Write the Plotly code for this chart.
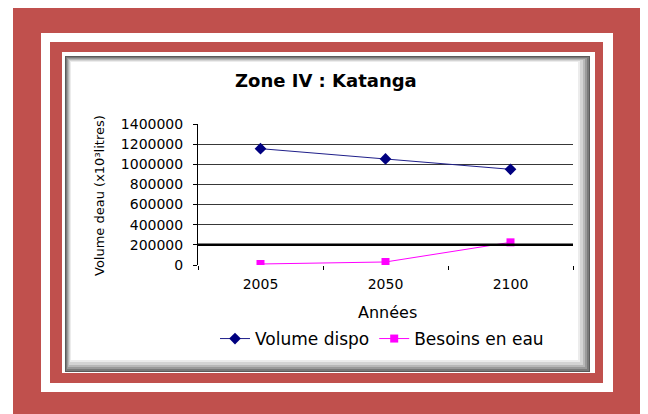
import plotly.graph_objects as go

# ---- data ----
years = ["2005", "2050", "2100"]
volume_dispo = [1155000, 1053000, 950000]
besoins_eau = [10000, 30000, 225000]
threshold = 200000
y_ticks = [0, 200000, 400000, 600000, 800000, 1000000, 1200000, 1400000]

# page body has an 8px margin: the figure covers reference pixels 8..648 / 8..414
OFF = 8
W, H = 648 - OFF, 414 - OFF
PL, PR, PT, PB = 198, 573, 124, 265   # plot area in reference pixels
L, R, T, B = PL - OFF, 648 - PR, PT - OFF, 414 - PB
PW, PH = PR - PL, PB - PT

def px(x):
    return (x - PL) / PW

def py(y):
    return (PB - y) / PH

RED = "#C0504D"
FONT = "DejaVu Sans"

fig = go.Figure()
fig.add_trace(go.Scatter(
    x=years, y=volume_dispo, name="Volume dispo", mode="lines+markers",
    line=dict(color="#1F1F8A", width=1),
    marker=dict(symbol="diamond", size=9, color="#000080"),
))
fig.add_trace(go.Scatter(
    x=years, y=besoins_eau, name="Besoins en eau", mode="lines+markers",
    line=dict(color="#FF00FF", width=1),
    marker=dict(symbol="square", size=8, color="#FF00FF"),
))

shapes = []
def rect(x0, y0, x1, y1, color):
    shapes.append(dict(type="rect", xref="paper", yref="paper",
                       x0=px(x0), x1=px(x1), y0=py(y1), y1=py(y0),
                       fillcolor=color, line=dict(width=0), layer="below"))

rect(13, 7, 642, 420, RED)
rect(41, 33, 613, 392, "white")
rect(50, 42, 603, 383, RED)
rect(62, 52, 595, 373, "white")
# shadowed chart box
rect(65, 56, 590, 372, "#5a5a5a")
rect(66, 57, 589, 371, "#7a7a7a")
rect(67, 58, 587, 369, "#9a9a9a")
rect(68, 59, 585, 367, "#b8b8b8")
rect(69, 60, 583, 365, "#d4d4d4")
rect(70, 61, 580, 362, "#ececec")
rect(71, 62, 578, 360, "white")

# bold threshold line
shapes.append(dict(type="line", xref="paper", yref="y", x0=0, x1=1,
                   y0=threshold, y1=threshold, line=dict(color="black", width=2.5),
                   layer="above"))

fig.update_layout(
    width=W, height=H,
    margin=dict(l=L, r=R, t=T, b=B, pad=0),
    paper_bgcolor="white",
    plot_bgcolor="rgba(0,0,0,0)",
    font=dict(family=FONT, size=14, color="black"),
    shapes=shapes,
    showlegend=True,
    legend=dict(orientation="h", x=px(215), xanchor="left", y=py(339), yanchor="middle",
                font=dict(family=FONT, size=17, color="black"),
                bgcolor="rgba(0,0,0,0)", itemwidth=30, tracegroupgap=0),
    annotations=[
        dict(text="<b>Zone IV : Katanga</b>", xref="paper", yref="paper",
             x=px(326), y=py(80), xanchor="center", yanchor="middle", showarrow=False,
             font=dict(family=FONT, size=18, color="black")),
        dict(text="Années", xref="paper", yref="paper",
             x=px(387), y=py(312), xanchor="center", yanchor="middle", showarrow=False,
             font=dict(family=FONT, size=16, color="black")),
        dict(text="Volume deau (x10³litres)", xref="paper", yref="paper",
             x=px(99), y=py(196), xanchor="center", yanchor="middle", showarrow=False,
             textangle=-90,
             font=dict(family=FONT, size=13, color="black")),
    ],
)
fig.update_xaxes(
    type="category", range=[-0.5, 2.5], showgrid=False,
    showline=False, ticks="outside", tickson="boundaries",
    ticklen=4, tickcolor="black", tickwidth=1,
    tickfont=dict(family=FONT, size=14), zeroline=False,
    ticklabelstandoff=9,
)
fig.update_yaxes(
    range=[0, 1400000], tickvals=y_ticks, tickformat="d",
    showgrid=True, gridcolor="#383838", gridwidth=1,
    showline=True, linecolor="black", linewidth=1,
    ticks="outside", ticklen=4, tickcolor="black",
    tickfont=dict(family=FONT, size=14), zeroline=False,
    ticklabelstandoff=7,
)

fig.write_html("out.html")
